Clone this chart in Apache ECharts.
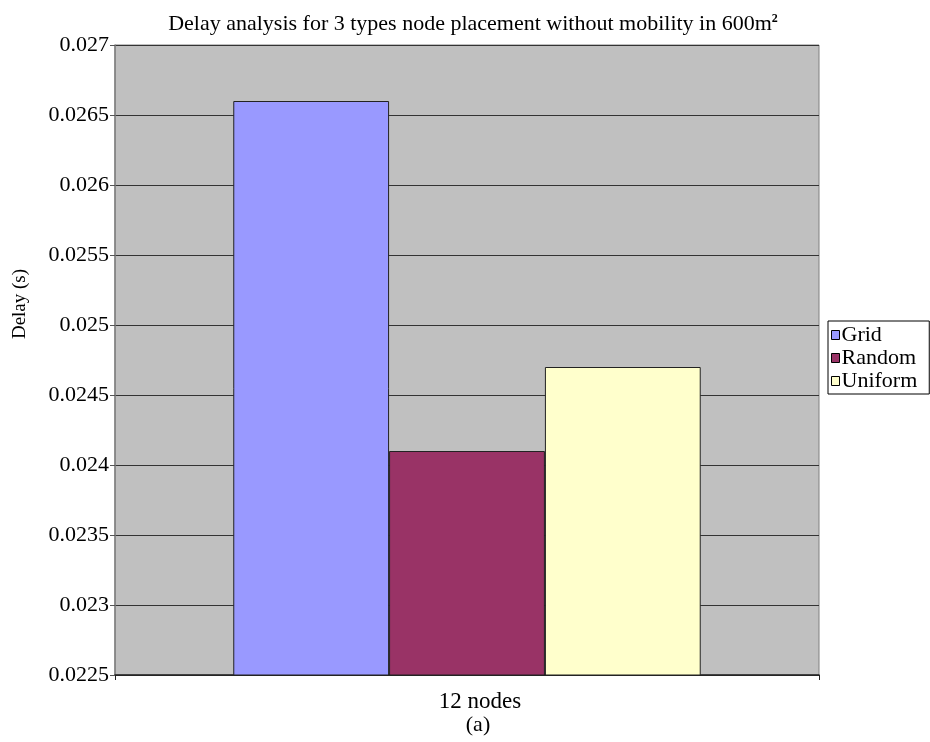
<!DOCTYPE html>
<html>
<head>
<meta charset="utf-8">
<script src="https://cdn.jsdelivr.net/npm/echarts@6/dist/echarts.min.js"></script>
<style>
  html, body { margin: 0; padding: 0; background: #fff; }
  #chart { width: 930px; height: 742px; }
</style>
</head>
<body>
<div id="chart"></div>
<script>
// Average delay per placement type, single scenario
const categories = ['12 nodes'];
const seriesNames = ['Grid', 'Random', 'Uniform'];
const gridDelay = [0.0266];
const randomDelay = [0.0241];
const uniformDelay = [0.0247];
const seriesColors = ['#9999ff', '#993366', '#ffffcc'];

const FONT = '"Liberation Serif", "Times New Roman", serif';
const values = [gridDelay, randomDelay, uniformDelay];

const chart = echarts.init(document.getElementById('chart'));
chart.setOption({
  backgroundColor: '#ffffff',
  animation: false,
  textStyle: { fontFamily: FONT, color: '#000' },
  title: {
    text: '{t|Delay analysis for 3 types node placement without mobility in 600m}{s|2}',
    left: 468,
    textAlign: 'center',
    top: 8,
    textStyle: {
      rich: {
        t: { fontFamily: FONT, fontSize: 22, color: '#000', fontWeight: 'normal' },
        s: { fontFamily: FONT, fontSize: 12, color: '#000', verticalAlign: 'top', padding: [0, 0, 10, 0] }
      }
    }
  },
  legend: {
    orient: 'vertical',
    left: 828,
    top: 321,
    padding: [3, 12, 2, 3],
    itemGap: 1,
    itemWidth: 8,
    itemHeight: 9,
    backgroundColor: '#fff',
    borderColor: '#000',
    borderWidth: 1,
    icon: 'rect',
    itemStyle: { borderColor: '#000', borderWidth: 1 },
    textStyle: { fontFamily: FONT, fontSize: 22, color: '#000', padding: [0, 0, 0, -3] },
    data: seriesNames
  },
  grid: {
    left: 115,
    top: 45,
    right: 111,
    bottom: 67,
    show: true,
    backgroundColor: '#c0c0c0',
    borderColor: '#808080',
    borderWidth: 1
  },
  xAxis: {
    type: 'category',
    data: categories,
    axisLine: { lineStyle: { color: '#222', width: 1.5 } },
    axisTick: { show: true, length: 5, lineStyle: { color: '#222' } },
    axisLabel: { fontFamily: FONT, fontSize: 23, color: '#000', margin: 15, padding: [0, 0, 0, 26] }
  },
  yAxis: {
    type: 'value',
    min: 0.0225,
    max: 0.027,
    interval: 0.0005,
    axisLine: { show: true, lineStyle: { color: '#808080', width: 1.5 } },
    axisTick: { show: true, length: 5, lineStyle: { color: '#555' } },
    axisLabel: {
      fontFamily: FONT, fontSize: 22, color: '#000', margin: 6,
      formatter: v => String(parseFloat(v.toFixed(4)))
    },
    splitLine: { show: true, lineStyle: { color: '#333', width: 1 } }
  },
  series: seriesNames.map((name, i) => ({
    name: name,
    type: 'bar',
    data: values[i],
    barGap: '0%',
    barCategoryGap: '33.6%',
    itemStyle: { color: seriesColors[i], borderColor: '#222', borderWidth: 1 }
  })),
  graphic: [
    {
      type: 'text',
      x: 20,
      y: 304,
      rotation: Math.PI / 2,
      style: {
        text: 'Delay (s)',
        font: '19px ' + FONT,
        fill: '#000',
        align: 'center',
        verticalAlign: 'middle'
      }
    },
    {
      type: 'text',
      x: 478,
      y: 725,
      style: {
        text: '(a)',
        font: '22px ' + FONT,
        fill: '#000',
        align: 'center',
        verticalAlign: 'middle'
      }
    }
  ]
});
</script>
</body>
</html>
